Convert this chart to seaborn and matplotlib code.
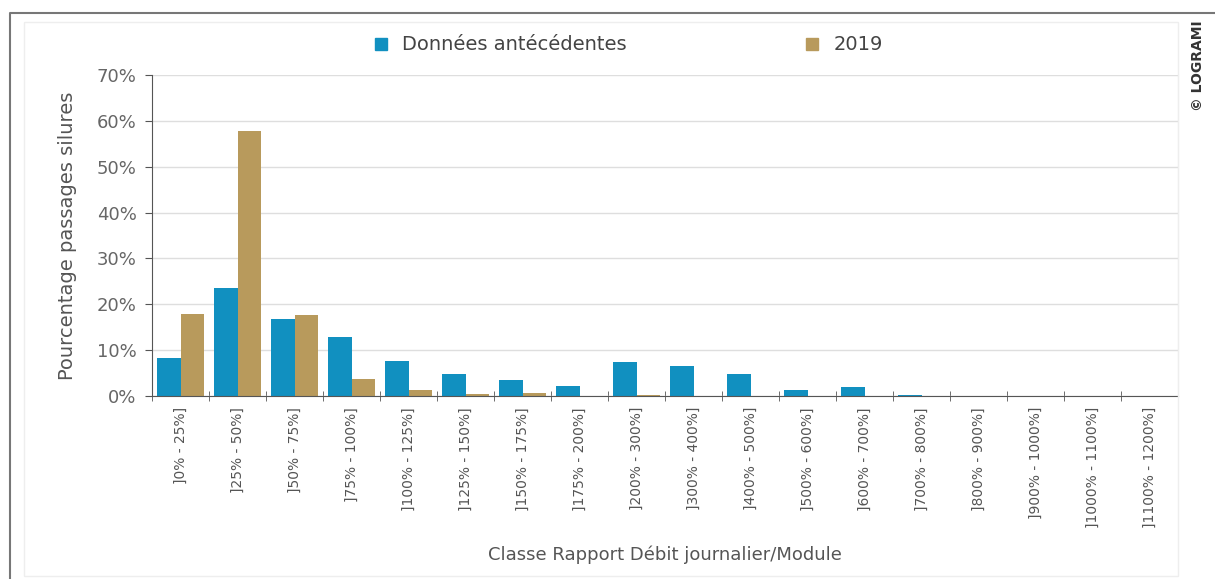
import numpy as np
import pandas as pd
import seaborn as sns
import matplotlib.pyplot as plt
from matplotlib.lines import Line2D
from matplotlib.patches import Rectangle
from matplotlib.ticker import FuncFormatter

classes = ["]0% - 25%]", "]25% - 50%]", "]50% - 75%]", "]75% - 100%]",
           "]100% - 125%]", "]125% - 150%]", "]150% - 175%]", "]175% - 200%]",
           "]200% - 300%]", "]300% - 400%]", "]400% - 500%]", "]500% - 600%]",
           "]600% - 700%]", "]700% - 800%]", "]800% - 900%]", "]900% - 1000%]",
           "]1000% - 1100%]", "]1100% - 1200%]"]
anterieures = [8.3, 23.6, 16.8, 12.9, 7.6, 4.9, 3.5, 2.2,
               7.4, 6.5, 4.8, 1.3, 2.0, 0.3, 0.0, 0.0, 0.0, 0.0]
annee_2019 = [17.9, 57.8, 17.7, 3.7, 1.2, 0.5, 0.6, 0.0,
              0.3, 0.0, 0.0, 0.0, 0.0, 0.0, 0.0, 0.0, 0.0, 0.0]
series_names = ["Données antécédentes", "2019"]
colors = ["#1190C0", "#B89A5C"]

df = pd.DataFrame({
    "Classe": classes * 2,
    "Serie": [series_names[0]] * len(classes) + [series_names[1]] * len(classes),
    "Pourcentage": anterieures + annee_2019,
})

sns.set_style("white")
plt.rcParams["font.family"] = ["DejaVu Sans"]

fig = plt.figure(figsize=(12.15, 5.79), dpi=100)
ax = fig.add_axes([152 / 1215, 1 - 396 / 579, (1178 - 152) / 1215, (396 - 75) / 579])

sns.barplot(data=df, x="Classe", y="Pourcentage", hue="Serie",
            palette=colors, width=0.84, gap=0, saturation=1,
            linewidth=0, legend=False, ax=ax)

ax.set_ylim(0, 70)
ax.set_xlim(-0.5, len(classes) - 0.5)
ax.set_yticks(range(0, 71, 10))
ax.yaxis.set_major_formatter(FuncFormatter(lambda v, p: f"{int(v)}%"))
ax.grid(axis="y", color="#dedede", linewidth=1)
ax.set_axisbelow(True)

ax.spines["top"].set_visible(False)
ax.spines["right"].set_color("#dcdcdc")
ax.spines["left"].set_color("#555555")
ax.spines["bottom"].set_color("#555555")

ax.tick_params(axis="y", length=5, color="#555555", labelsize=13,
               labelcolor="#666666", pad=6, left=True)
ax.tick_params(axis="x", which="major", length=0, labelsize=10,
               labelcolor="#555555", labelrotation=90, pad=8)
ax.set_xticks(np.arange(-0.5, len(classes), 1), minor=True)
ax.tick_params(axis="x", which="minor", length=7, direction="inout",
               color="#555555", bottom=True)

ax.set_xlabel("Classe Rapport Débit journalier/Module", fontsize=13,
              color="#555555", labelpad=12)
ax.set_ylabel("Pourcentage passages silures", fontsize=14,
              color="#555555", labelpad=14)

handles = [Line2D([], [], marker="s", linestyle="none", markersize=8,
                  markerfacecolor=c, markeredgecolor=c) for c in colors]
fig.legend(handles, series_names, loc="center", bbox_to_anchor=(0.512, 1 - 45 / 579),
           ncol=2, frameon=False, fontsize=14, handletextpad=0.1,
           columnspacing=8.5, labelcolor="#444444")

fig.text(1198 / 1215, 1 - 20 / 579, "© LOGRAMI", rotation=90, ha="center",
         va="top", fontsize=10, fontweight="bold", color="#333333")

fig.add_artist(Line2D([10 / 1215, 10 / 1215, 1.0], [0, 1 - 13 / 579, 1 - 13 / 579],
                      transform=fig.transFigure, color="#777777", linewidth=1.5))
fig.add_artist(Rectangle((24 / 1215, 3 / 579), (1178 - 24) / 1215, (557 - 3) / 579,
                         transform=fig.transFigure, fill=False,
                         edgecolor="#eeeeee", linewidth=1))

fig.savefig("out.png", dpi=100)
